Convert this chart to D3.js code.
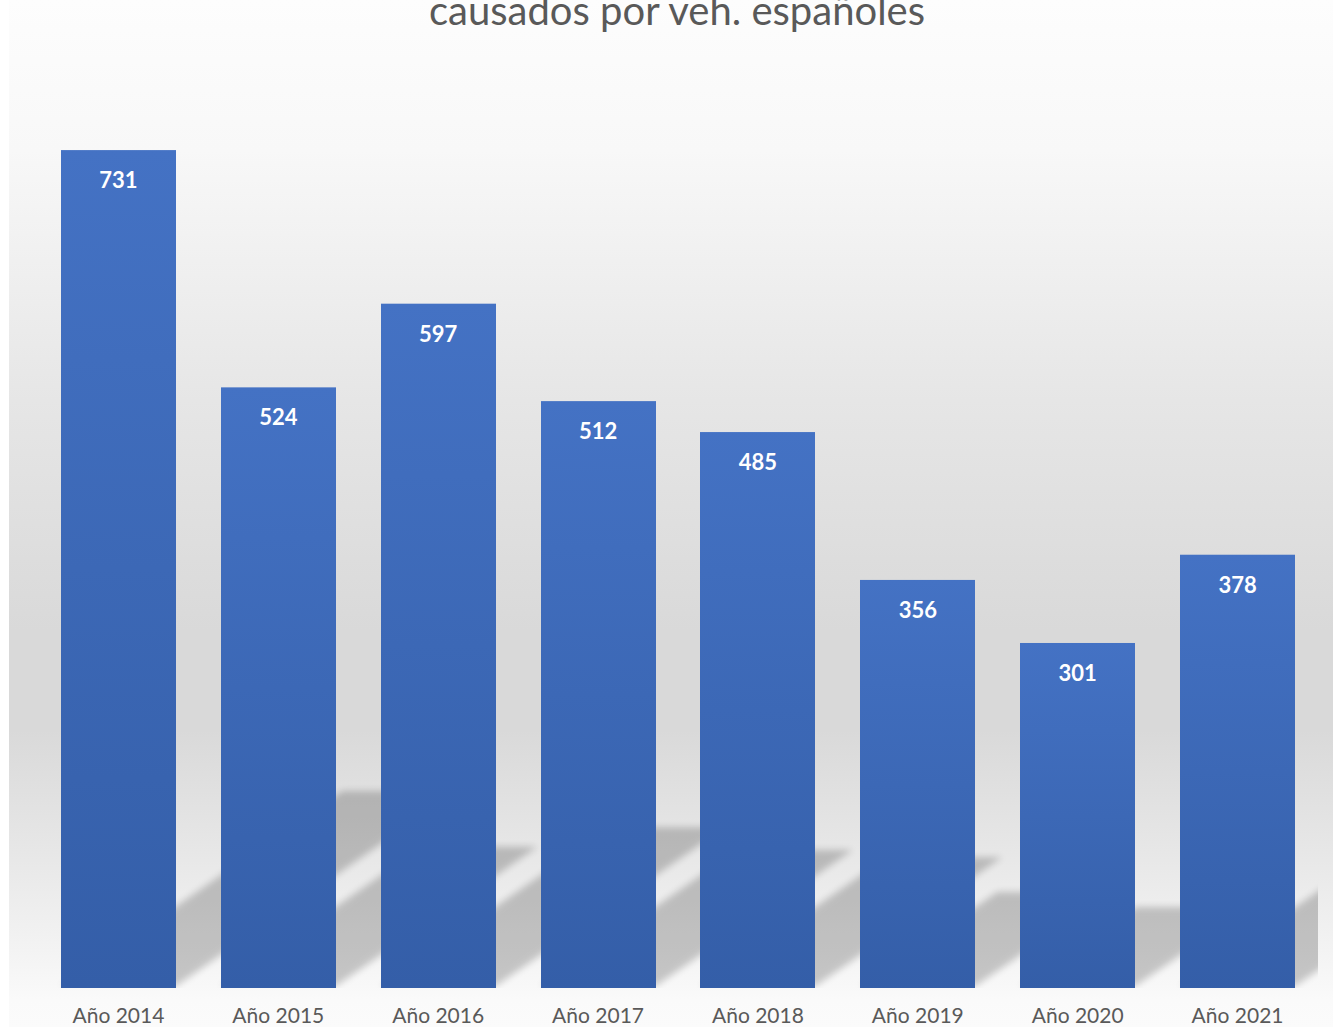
<!DOCTYPE html>
<html>
<head>
<meta charset="utf-8">
<script src="https://cdn.jsdelivr.net/npm/d3@7"></script>
<style>
  body { margin: 0; background: #fff; }
  text { font-family: Lato, "Open Sans", sans-serif; }
</style>
</head>
<body>
<div id="chart"></div>
<script>
const years = ["Año 2014", "Año 2015", "Año 2016", "Año 2017", "Año 2018", "Año 2019", "Año 2020", "Año 2021"];
const values = [731, 524, 597, 512, 485, 356, 301, 378];
const title = "causados por veh. españoles";

const width = 1335, height = 1027;
const base = 988;

const svg = d3.select("#chart").append("svg")
  .attr("width", width)
  .attr("height", height);

const defs = svg.append("defs");

// fondo degradado gris
const bg = defs.append("linearGradient")
  .attr("id", "bg")
  .attr("gradientUnits", "userSpaceOnUse")
  .attr("x1", 0).attr("y1", 0).attr("x2", 0).attr("y2", height);
[[0, "#fdfdfd"], [150, "#f8f8f8"], [400, "#e6e6e6"], [630, "#d9d9d9"], [730, "#d9d9d9"],
 [860, "#e8e8e8"], [950, "#f3f3f3"], [1000, "#fafafa"], [1027, "#fbfbfb"]]
  .forEach(s => bg.append("stop").attr("offset", s[0] / height).attr("stop-color", s[1]));

const barGrad = defs.append("linearGradient")
  .attr("id", "bar").attr("x1", 0).attr("y1", 0).attr("x2", 0).attr("y2", 1);
barGrad.append("stop").attr("offset", 0).attr("stop-color", "#4472c4");
barGrad.append("stop").attr("offset", 1).attr("stop-color", "#345ea8");

defs.append("filter").attr("id", "blur")
  .attr("x", "-10%").attr("y", "-10%").attr("width", "120%").attr("height", "120%")
  .append("feGaussianBlur").attr("stdDeviation", 3.5);

svg.append("rect")
  .attr("x", 9).attr("y", 0)
  .attr("width", 1324).attr("height", height)
  .attr("fill", "url(#bg)");

const x = d3.scaleBand()
  .domain(years)
  .range([38.5, 1317.5])
  .paddingInner(0.28125)
  .paddingOuter(0.140625);

const y = d3.scaleLinear()
  .domain([0, 800])
  .range([base, 71]);

const data = years.map((d, i) => ({ year: d, value: values[i] }));

// sombras inclinadas
defs.append("clipPath").attr("id", "plot")
  .append("rect").attr("x", 38).attr("y", 0).attr("width", 1280).attr("height", base);

const shadows = svg.append("g")
  .attr("clip-path", "url(#plot)")
  .append("g")
  .attr("opacity", 0.2)
  .attr("filter", "url(#blur)");

shadows.selectAll("path")
  .data(data)
  .join("path")
  .attr("fill", "#000")
  .attr("d", d => {
    const x0 = x(d.year), x1 = x0 + x.bandwidth();
    const sh = (base - y(d.value)) * 0.235;
    const dx = sh / 0.7;
    return `M${x0},${base - 2}L${x1},${base - 2}L${x1 + dx},${base - sh}L${x0 + dx},${base - sh}Z`;
  });

svg.append("g")
  .selectAll("rect")
  .data(data)
  .join("rect")
  .attr("x", d => Math.round(x(d.year)))
  .attr("y", d => y(d.value))
  .attr("width", Math.round(x.bandwidth()))
  .attr("height", d => base - y(d.value))
  .attr("fill", "url(#bar)");

svg.append("g")
  .selectAll("text")
  .data(data)
  .join("text")
  .attr("x", d => x(d.year) + x.bandwidth() / 2)
  .attr("y", d => y(d.value) + 38)
  .attr("text-anchor", "middle")
  .attr("fill", "#fff")
  .style("font-size", "22px")
  .style("font-weight", "bold")
  .text(d => d.value);

const xAxis = svg.append("g")
  .attr("transform", `translate(0,${base})`)
  .call(d3.axisBottom(x).tickSize(0).tickPadding(0));
xAxis.select(".domain").remove();
xAxis.selectAll("text")
  .attr("dy", null)
  .attr("y", 35)
  .attr("fill", "#595959")
  .style("font-family", "Lato, 'Open Sans', sans-serif")
  .style("font-size", "21px");

// el título aparece cortado arriba, como en la imagen original
svg.append("text")
  .attr("x", 677)
  .attr("y", 25)
  .attr("text-anchor", "middle")
  .attr("fill", "#595959")
  .style("font-size", "40px")
  .text(title);
</script>
</body>
</html>
